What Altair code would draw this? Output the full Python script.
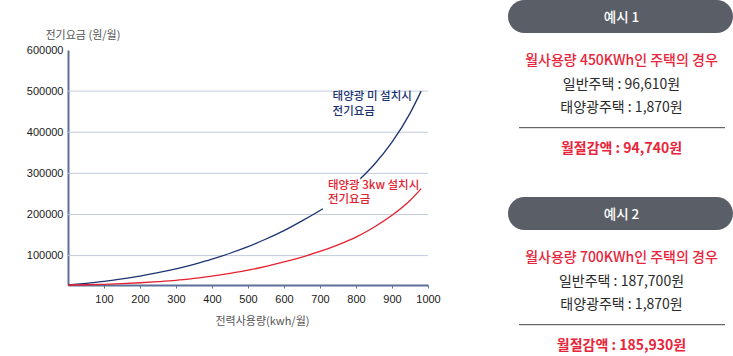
import altair as alt
import pandas as pd

# ---- data ----
kwh_no = [0, 50, 100, 150, 200, 250, 300, 350, 400, 450, 500, 550, 600, 650, 700, 708,
          812, 850, 900, 950, 981]
fee_no = [28500, 32700, 37400, 43400, 50200, 58400, 67800, 78900, 91300, 105700, 121800,
          140300, 160800, 184500, 209800, 214000,
          287000, 321000, 376000, 446000, 500000]
seg_no = [1] * 16 + [2] * 5

kwh_pv = [0, 50, 100, 150, 200, 250, 300, 350, 400, 450, 500, 550, 600, 650, 700, 750,
          800, 850, 900, 950, 981]
fee_pv = [28500, 29100, 30100, 31800, 34000, 36600, 39800, 44500, 50000, 56800, 64500,
          73800, 84500, 96500, 110000, 126000, 145000, 169000, 198000, 234000, 263000]

x_ticks = [100, 200, 300, 400, 500, 600, 700, 800, 900, 1000]
y_ticks = [100000, 200000, 300000, 400000, 500000, 600000]
grid_vals = [100000, 200000, 300000, 400000, 500000]

label_line1 = ["태양광 미 설치시", "태양광 3kw 설치시"]
label_line2 = ["전기요금", "전기요금"]
label_kwh = [735, 722]
label_fee = [500000, 284000]

example_titles = ["예시 1", "예시 2"]
usage_lines = ["월사용량 450KWh인 주택의 경우", "월사용량 700KWh인 주택의 경우"]
normal_lines = ["일반주택 : 96,610원", "일반주택 : 187,700원"]
solar_lines = ["태양광주택 : 1,870원", "태양광주택 : 1,870원"]
saving_lines = ["월절감액 : 94,740원", "월절감액 : 185,930원"]

NAVY = "#1b3470"
RED = "#e4222f"
TXT_RED = "#e8253b"
AXIS = "#5d709a"
KFONT = "Noto Sans CJK KR"

curves = pd.concat([
    pd.DataFrame({"kwh": kwh_no, "fee": fee_no, "series": "no",
                  "seg": [f"no{s}" for s in seg_no]}),
    pd.DataFrame({"kwh": kwh_pv, "fee": fee_pv, "series": "pv", "seg": "pv1"}),
])

x_scale = alt.Scale(domain=[0, 1000], nice=False, zero=False)
y_scale = alt.Scale(domain=[28500, 600000], nice=False, zero=False)

x_axis = alt.Axis(
    values=x_ticks, format="d", title="전력사용량(kwh/월)", titleFont=KFONT,
    titleFontSize=11, titleFontWeight="normal", titleColor="#555555", titleX=194,
    titleY=36, titleBaseline="middle", titleAlign="center",
    labelFont="Liberation Sans", labelFontSize=11, labelColor="#1a1a1a",
    labelPadding=5, tickSize=3, tickColor=AXIS, tickWidth=1, labelOverlap=False,
    domainColor=AXIS, domainWidth=2, grid=False, labelFlush=False)

y_axis = alt.Axis(
    values=y_ticks, format="d", title="전기요금 (원/월)", titleFont=KFONT,
    titleFontSize=11, titleFontWeight="normal", titleColor="#555555",
    titleAngle=0, titleAlign="left", titleX=-23, titleY=-15,
    titleBaseline="middle", labelOverlap=False,
    labelFont="Liberation Sans", labelFontSize=11, labelColor="#1a1a1a",
    labelPadding=5, ticks=False, domainColor=AXIS, domainWidth=2, grid=False,
    labelFlush=False)

grid = alt.Chart(pd.DataFrame({"g": grid_vals})).mark_rule(
    color="#c3cbdd", strokeWidth=1
).encode(y=alt.Y("g:Q", scale=y_scale, axis=y_axis, title="전기요금 (원/월)"))

lines = alt.Chart(curves).mark_line(strokeWidth=1.3, interpolate="monotone").encode(
    x=alt.X("kwh:Q", scale=x_scale, axis=x_axis),
    y=alt.Y("fee:Q", scale=y_scale, axis=y_axis, title="전기요금 (원/월)"),
    color=alt.Color("series:N", scale=alt.Scale(domain=["no", "pv"], range=[NAVY, RED]),
                    legend=None),
    detail="seg:N",
)

labels_df = pd.DataFrame({
    "kwh": label_kwh, "fee": label_fee, "t1": label_line1, "t2": label_line2,
    "series": ["no", "pv"]})
label_color = alt.Color("series:N", scale=alt.Scale(domain=["no", "pv"],
                                                    range=["#1d3a7a", "#e0283a"]),
                        legend=None)


def curve_label(field, dy):
    return alt.Chart(labels_df).mark_text(
        align="left", baseline="top", font=KFONT, fontSize=11.5, fontWeight=500, dy=dy
    ).encode(
        x=alt.X("kwh:Q", scale=x_scale, axis=x_axis),
        y=alt.Y("fee:Q", scale=y_scale, axis=y_axis, title="전기요금 (원/월)"),
        text=f"{field}:N",
        color=label_color,
    )


# ---- right-hand info panel (positions relative to plot origin) ----
CX = 553.5


def txt(s, y, color, size=14, weight=400):
    return alt.Chart(pd.DataFrame({"t": [s]})).mark_text(
        font=KFONT, fontSize=size, fontWeight=weight, color=color,
        align="center", baseline="middle"
    ).encode(text="t:N", x=alt.value(CX), y=alt.value(y))


def pill(y0, y1):
    return alt.Chart(pd.DataFrame({"a": [0]})).mark_rect(
        color="#5a5e66", cornerRadius=16.5
    ).encode(x=alt.value(440), x2=alt.value(665), y=alt.value(y0), y2=alt.value(y1))


def sep(y):
    return alt.Chart(pd.DataFrame({"a": [0]})).mark_rule(
        color="#444444", strokeWidth=1
    ).encode(x=alt.value(451), x2=alt.value(657), y=alt.value(y))


panel = []
for i, off in enumerate([0, 197]):
    panel += [
        pill(-50 + off, -17 + off),
        txt(example_titles[i], -32.5 + off, "white", size=13.5, weight=500),
        txt(usage_lines[i], 10.7 + off, TXT_RED, weight=500),
        txt(normal_lines[i], 34.5 + off, "#2a2a2a"),
        txt(solar_lines[i], 57.5 + off, "#2a2a2a"),
        sep(77.7 + off),
        txt(saving_lines[i], 99 + off, TXT_RED, weight=700),
    ]

chart = alt.layer(grid, lines, curve_label("t1", 0), curve_label("t2", 14.5),
                  *panel).properties(
    width=360, height=235,
    padding={"left": 68, "top": 50, "right": 305, "bottom": 71},
    autosize=alt.AutoSizeParams(type="none"),
    background="white",
).configure_view(stroke=None)

chart.save("out.html", embed_options={"renderer": "svg", "actions": False})
